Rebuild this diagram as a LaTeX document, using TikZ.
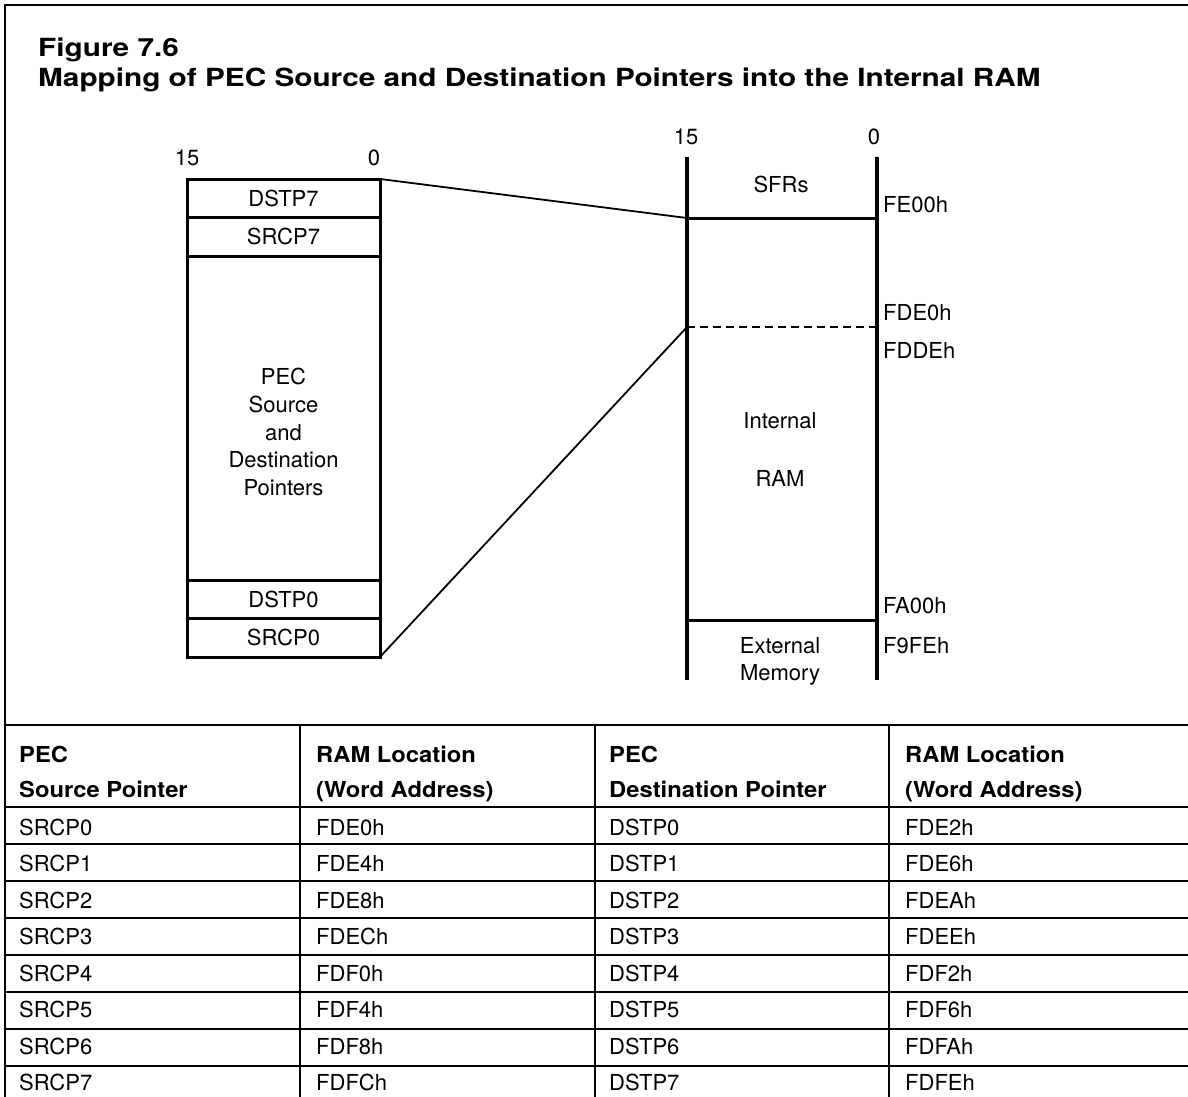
\documentclass[tikz,border=0pt]{standalone}
\usepackage{fontspec}
\setmainfont{TeX Gyre Heros}
\newfontfamily\titlefont[FakeStretch=1.19]{TeX Gyre Heros}
\newfontfamily\headfont[FakeStretch=1.08]{TeX Gyre Heros}
\usetikzlibrary{positioning}

\newcommand{\lblfont}{\fontsize{22}{27.75}\selectfont}
\newcommand{\hdrfont}{\headfont\bfseries\fontsize{22}{27}\selectfont}

\begin{document}
\begin{tikzpicture}[
 x=1pt, y=-1pt,
 frame/.style={line width=2pt},
 cell/.style={draw,line width=3pt,outer sep=0pt,inner sep=0pt,minimum width=193pt,minimum height=38.5pt,font=\lblfont},
 bus/.style={line width=4pt},
 mark line/.style={line width=3pt},
 link/.style={line width=1.8pt},
 lbl/.style={font=\lblfont,inner sep=0pt},
 tline/.style={line width=2.2pt},
 ttext/.style={font=\lblfont,inner sep=0pt,anchor=base west},
 thead/.style={font=\hdrfont,inner sep=0pt,anchor=base west}
]
\useasboundingbox (0,0) rectangle (1188,1097);
\draw[frame] (1188,5) -| (5,1097);

% title
\node[anchor=base west,inner sep=0pt,font=\titlefont\bfseries\fontsize{25}{30}\selectfont] (fig) at (38,57) {Figure 7.6};
\node[anchor=base west,inner sep=0pt,font=\titlefont\bfseries\fontsize{25}{30}\selectfont] (caption) at (38,87) {Mapping of PEC Source and Destination Pointers into the Internal RAM};

% pointer block
\node[cell] (dstp7) at (283.5,198.25) {DSTP7};
\node[cell,below=0pt of dstp7] (srcp7) {SRCP7};
\node[cell,below=0pt of srcp7,minimum height=324pt] (pecblk) {};
\node[cell,below=0pt of pecblk] (dstp0) {DSTP0};
\node[cell,below=0pt of dstp0] (srcp0) {SRCP0};
\node[lbl,align=center] (pectxt) at (283.5,432) {PEC\\Source\\and\\Destination\\Pointers};
\node[lbl,anchor=base] (lbit15) at (187,165) {15};
\node[lbl,anchor=base] (lbit0) at (374,165) {0};

% internal memory column
\coordinate (colL) at (687,157);
\coordinate (colLend) at (687,680);
\coordinate (colR) at (877,157);
\coordinate (colRend) at (877,680);
\coordinate (sfrL) at (687,218);
\coordinate (sfrR) at (877,218);
\coordinate (ptrL) at (687,327);
\coordinate (ptrR) at (877,327);
\coordinate (extL) at (687,620);
\coordinate (extR) at (877,620);
\draw[bus] (colL) -- (colLend);
\draw[bus] (colR) -- (colRend);
\draw[mark line] (sfrL) -- (sfrR);
\draw[line width=2.2pt,dash pattern=on 8pt off 5pt] (ptrL) -- (ptrR);
\draw[mark line] (extL) -- (extR);
\node[lbl,anchor=base] (rbit15) at (686,145) {15};
\node[lbl,anchor=base] (rbit0) at (874,145) {0};
\node[lbl,anchor=base] (sfr) at (781,192) {SFRs};
\node[lbl,anchor=base] (iram1) at (780,428) {Internal};
\node[lbl,anchor=base] (iram2) at (780,486) {RAM};
\node[lbl,anchor=base] (ext1) at (780,653) {External};
\node[lbl,anchor=base] (ext2) at (780,680) {Memory};
\node[lbl,anchor=base west] (fe00) at (883,212) {FE00h};
\node[lbl,anchor=base west] (fde0) at (883,320) {FDE0h};
\node[lbl,anchor=base west] (fdde) at (883,358) {FDDEh};
\node[lbl,anchor=base west] (fa00) at (883,613) {FA00h};
\node[lbl,anchor=base west] (f9fe) at (883,653) {F9FEh};

\draw[link] (dstp7.north east) -- (sfrL);
\draw[link] (srcp0.south east) -- (ptrL);

% table
\draw[tline] (5,725) -- (1188,725);
\foreach \k in {0,...,7}
  \draw[tline] (5,{807+37*\k}) -- (1188,{807+37*\k});
\foreach \cx in {300,595,889}
  \draw[tline] (\cx,725) -- (\cx,1097);
\node[thead] (h1a) at (19,762) {PEC};
\node[thead] (h1b) at (19,797) {Source Pointer};
\node[thead] (h2a) at (316,762) {RAM Location};
\node[thead] (h2b) at (316,797) {(Word Address)};
\node[thead] (h3a) at (609,762) {PEC};
\node[thead] (h3b) at (609,797) {Destination Pointer};
\node[thead] (h4a) at (905,762) {RAM Location};
\node[thead] (h4b) at (905,797) {(Word Address)};
\foreach \src/\sadr/\dst/\dadr [count=\k from 0] in {
  SRCP0/FDE0h/DSTP0/FDE2h, SRCP1/FDE4h/DSTP1/FDE6h,
  SRCP2/FDE8h/DSTP2/FDEAh, SRCP3/FDECh/DSTP3/FDEEh,
  SRCP4/FDF0h/DSTP4/FDF2h, SRCP5/FDF4h/DSTP5/FDF6h,
  SRCP6/FDF8h/DSTP6/FDFAh, SRCP7/FDFCh/DSTP7/FDFEh} {
  \node[ttext] (src\k) at (19,{835+36.5*\k}) {\src};
  \node[ttext] (sadr\k) at (316,{835+36.5*\k}) {\sadr};
  \node[ttext] (dst\k) at (609,{835+36.5*\k}) {\dst};
  \node[ttext] (dadr\k) at (905,{835+36.5*\k}) {\dadr};
}
\end{tikzpicture}
\end{document}
